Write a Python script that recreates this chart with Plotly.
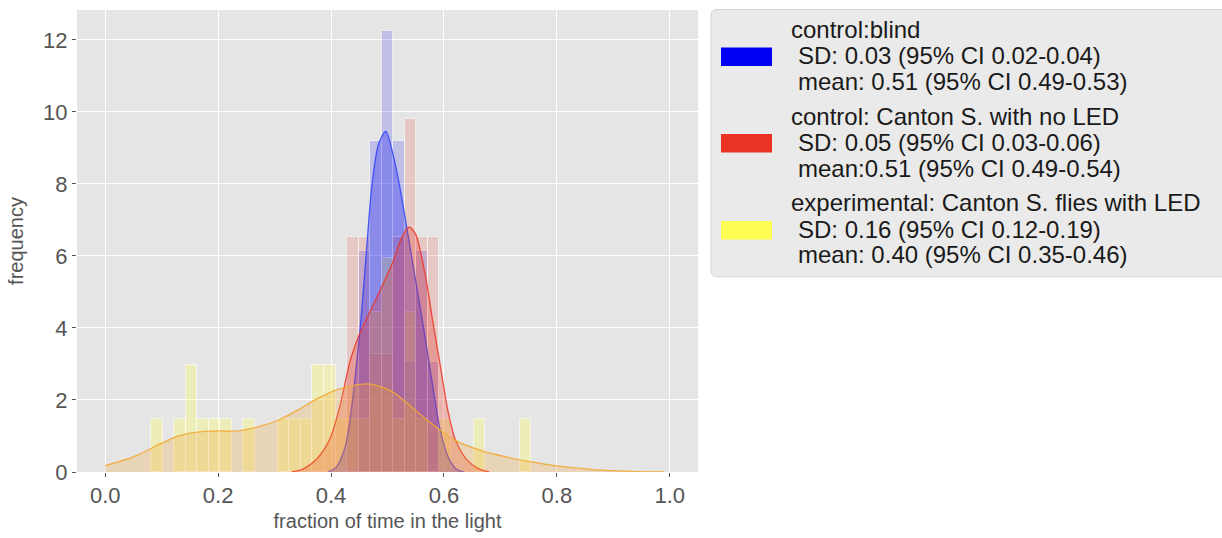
import plotly.graph_objects as go

# ---------------- data ----------------
bin_left = 0.0815
bin_width = 0.0204

blue_counts = [0, 0, 0, 0, 0, 0, 0, 0, 0, 0, 0, 0, 0, 0, 0, 0, 0, 0,
               2, 3, 4, 3, 1, 2, 1, 0, 0, 0, 0, 0, 0, 0, 0]
red_counts = [0, 0, 0, 0, 0, 0, 0, 0, 0, 0, 0, 0, 0, 0, 0, 0, 0,
              2, 2, 1, 1, 2, 3, 2, 2, 0, 0, 0, 0, 0, 0, 0, 0]
yellow_counts = [1, 0, 1, 2, 1, 1, 1, 0, 1, 0, 0, 1, 1, 1, 2, 2, 1,
                 1, 1, 3, 4, 1, 3, 1, 0, 1, 0, 0, 1, 0, 0, 0, 1]

blue_kde_x = [0.395, 0.41, 0.425, 0.434, 0.451, 0.463, 0.472, 0.484, 0.497, 0.510,
              0.522, 0.534, 0.549, 0.564, 0.578, 0.593, 0.608, 0.622, 0.635]
blue_kde_y = [0.0, 0.15, 0.7, 1.5, 3.9, 6.2, 7.9, 9.1, 9.46, 8.8,
              7.9, 6.8, 5.4, 4.0, 2.6, 1.2, 0.4, 0.08, 0.0]

red_kde_x = [0.33, 0.35, 0.375, 0.398, 0.416, 0.434, 0.451, 0.472, 0.493, 0.510, 0.525,
             0.538, 0.55, 0.56, 0.57, 0.58, 0.593, 0.607, 0.62, 0.64, 0.66, 0.68]
red_kde_y = [0.0, 0.08, 0.37, 0.92, 1.85, 3.1, 3.85, 4.55, 5.25, 5.85, 6.5,
             6.8, 6.6, 6.0, 5.2, 4.2, 3.0, 1.7, 0.9, 0.35, 0.1, 0.0]

yellow_kde_x = [0.0, 0.05, 0.1, 0.13, 0.16, 0.2, 0.235, 0.27, 0.305, 0.34, 0.375, 0.41,
                0.445, 0.47, 0.51, 0.545, 0.58, 0.62, 0.665, 0.71, 0.76, 0.815, 0.87, 0.93, 0.99]
yellow_kde_y = [0.18, 0.42, 0.8, 1.0, 1.1, 1.14, 1.14, 1.25, 1.43, 1.71, 2.03, 2.28,
                2.42, 2.44, 2.22, 1.77, 1.32, 0.88, 0.6, 0.42, 0.27, 0.14, 0.06, 0.02, 0.0]

legend_titles = ["control:blind",
                 "control: Canton S. with no LED",
                 "experimental: Canton S. flies with LED"]
legend_sd = ["SD: 0.03 (95% CI 0.02-0.04)",
             "SD: 0.05 (95% CI 0.03-0.06)",
             "SD: 0.16 (95% CI 0.12-0.19)"]
legend_mean = ["mean: 0.51 (95% CI 0.49-0.53)",
               "mean:0.51 (95% CI 0.49-0.54)",
               "mean: 0.40 (95% CI 0.35-0.46)"]

x_ticks = [0.0, 0.2, 0.4, 0.6, 0.8, 1.0]
y_ticks = [0, 2, 4, 6, 8, 10, 12]

# ---------------- styling ----------------
W, H = 1222, 538
ML, MR, MT, MB = 77, 524, 10, 64
FONT = "Liberation Sans, Arial, Helvetica, sans-serif"

BLUE = (0, 0, 245)
RED = (234, 51, 35)
YELLOW = (255, 254, 84)
ORANGE = (243, 168, 50)


def rgba(c, a):
    return f"rgba({c[0]},{c[1]},{c[2]},{a})"


def px_x(p):
    return (p - ML) / (W - ML - MR)


def px_y(p):
    return (H - MB - p) / (H - MT - MB)


fig = go.Figure()


def add_hist(counts, color, alpha):
    n = sum(counts)
    xs, ys = [], []
    for k, c in enumerate(counts):
        if c > 0:
            xs.append(bin_left + (k + 0.5) * bin_width)
            ys.append(c / (n * bin_width))
    fig.add_trace(go.Bar(
        x=xs, y=ys, width=bin_width,
        marker=dict(color=rgba(color, alpha),
                    line=dict(color="rgba(255,255,255,0.55)", width=1)),
        showlegend=False, hoverinfo="skip"))


def add_kde(xs, ys, color, alpha, lcolor, lalpha):
    fig.add_trace(go.Scatter(
        x=xs, y=ys, mode="lines", fill="tozeroy",
        fillcolor=rgba(color, alpha),
        line=dict(color=rgba(lcolor, lalpha), width=1.3, shape="spline", smoothing=0.8),
        showlegend=False, hoverinfo="skip"))


add_hist(blue_counts, BLUE, 0.17)
add_kde(blue_kde_x, blue_kde_y, BLUE, 0.27, (40, 60, 250), 0.8)
add_hist(red_counts, RED, 0.17)
add_kde(red_kde_x, red_kde_y, RED, 0.28, RED, 0.85)
add_hist(yellow_counts, YELLOW, 0.30)
add_kde(yellow_kde_x, yellow_kde_y, ORANGE, 0.26, ORANGE, 0.9)

# ---------------- manual legend ----------------
shapes = []
annotations = []
box_l, box_r, box_t, box_b, rad = 711, 1235, 9.5, 278, 6
path = (f"M {px_x(box_l + rad)},{px_y(box_t)} L {px_x(box_r)},{px_y(box_t)} "
        f"L {px_x(box_r)},{px_y(box_b)} L {px_x(box_l + rad)},{px_y(box_b)} "
        f"Q {px_x(box_l)},{px_y(box_b)} {px_x(box_l)},{px_y(box_b - rad)} "
        f"L {px_x(box_l)},{px_y(box_t + rad)} "
        f"Q {px_x(box_l)},{px_y(box_t)} {px_x(box_l + rad)},{px_y(box_t)} Z")
shapes.append(dict(type="path", xref="paper", yref="paper", path=path,
                   fillcolor="rgb(234,234,234)", line=dict(color="rgb(214,214,214)", width=1),
                   layer="below"))

patch_colors = [BLUE, RED, YELLOW]
patch_tops = [47.7, 134.5, 222]
line_rows = [(30, 56, 81.5), (117, 143, 169), (203.5, 230, 256)]
for i in range(3):
    t = patch_tops[i]
    shapes.append(dict(type="rect", xref="paper", yref="paper",
                       x0=px_x(721), x1=px_x(772), y0=px_y(t + 18.5), y1=px_y(t),
                       fillcolor=rgba(patch_colors[i], 1), line=dict(width=0)))
    r1, r2, r3 = line_rows[i]
    for txt, yy, xx in [(legend_titles[i], r1, 789), (legend_sd[i], r2, 796),
                        (legend_mean[i], r3, 796)]:
        annotations.append(dict(text=txt, xref="paper", yref="paper",
                                x=px_x(xx), y=px_y(yy), xanchor="left", yanchor="middle",
                                showarrow=False,
                                font=dict(family=FONT, size=24, color="#1a1a1a")))

fig.update_layout(
    width=W, height=H,
    margin=dict(l=ML, r=MR, t=MT, b=MB),
    paper_bgcolor="white",
    plot_bgcolor="rgb(229,229,229)",
    barmode="overlay",
    bargap=0,
    showlegend=False,
    shapes=shapes,
    annotations=annotations,
    font=dict(family=FONT, color="#555555"),
    xaxis=dict(range=[-0.05, 1.05], tickvals=x_ticks, tickformat=".1f",
               showgrid=True, gridcolor="white", gridwidth=1.3, zeroline=False,
               showline=False, ticks="outside", ticklen=4, tickcolor="#555555",
               tickfont=dict(size=22, color="#555555"),
               title=dict(text="fraction of time in the light",
                          font=dict(size=20, color="#555555"), standoff=6)),
    yaxis=dict(range=[0, 12.83], tickvals=y_ticks,
               showgrid=True, gridcolor="white", gridwidth=1.3, zeroline=False,
               showline=False, ticks="outside", ticklen=4, tickcolor="#555555",
               tickfont=dict(size=22, color="#555555"),
               title=dict(text="frequency", font=dict(size=20, color="#555555"),
                          standoff=14)),
)

fig.write_html("out.html")
